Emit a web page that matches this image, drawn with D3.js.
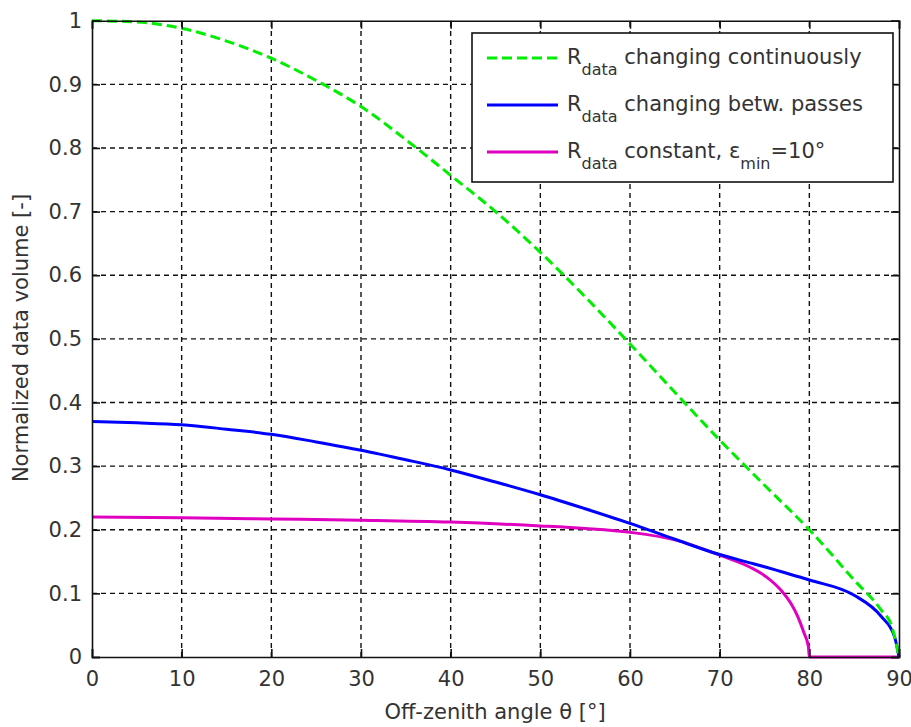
<!DOCTYPE html>
<html>
<head>
<meta charset="utf-8">
<script src="https://cdn.jsdelivr.net/npm/d3@7"></script>
<style>
body { margin: 0; padding: 0; background: #fff; overflow: hidden; }
text { font-family: "DejaVu Sans", sans-serif; fill: #333; }
</style>
</head>
<body>
<script>
// values
const xTicks = [0, 10, 20, 30, 40, 50, 60, 70, 80, 90];
const yTicks = [0, 0.1, 0.2, 0.3, 0.4, 0.5, 0.6, 0.7, 0.8, 0.9, 1];

const greenTheta = [0, 5, 10, 15, 20, 25, 30, 36, 40, 45, 50, 55, 60, 65, 70, 75, 80, 85, 88, 89.2, 90];
const greenVal   = [1.0, 0.998, 0.988, 0.968, 0.941, 0.906, 0.865, 0.802, 0.757, 0.700, 0.636, 0.566, 0.492, 0.416, 0.341, 0.270, 0.200, 0.121, 0.074, 0.048, 0.0];

const blueTheta = [0, 5, 10, 15, 20, 25, 30, 35, 40, 45, 50, 55, 60, 65, 70, 73.4, 75.2, 76.9, 80, 85, 88, 89.5, 90];
const blueVal   = [0.370, 0.368, 0.365, 0.358, 0.350, 0.338, 0.325, 0.310, 0.294, 0.275, 0.255, 0.233, 0.210, 0.185, 0.161, 0.148, 0.141, 0.134, 0.121, 0.097, 0.064, 0.032, 0.0];

const magTheta = [0, 10, 20, 30, 40, 50, 55, 60, 65, 67.7, 70, 73.4, 75.2, 76.9, 78.0, 78.7, 79.4, 79.9, 80, 90];
const magVal   = [0.220, 0.219, 0.217, 0.215, 0.212, 0.206, 0.202, 0.196, 0.184, 0.172, 0.160, 0.141, 0.126, 0.104, 0.083, 0.064, 0.038, 0.016, 0.0, 0.0];

const seriesNames = ["changing continuously", "changing betw. passes", "constant, "];
const seriesColors = ["#00ee00", "#0000ff", "#e000c0"];

const W = 911, H = 727;
const svg = d3.select("body").append("svg").attr("width", W).attr("height", H);

const x = d3.scaleLinear().domain([0, 90]).range([92, 899]);
const y = d3.scaleLinear().domain([0, 1]).range([657, 20.7]);

// grid
const grid = svg.append("g").attr("stroke", "#111").attr("stroke-width", 1.4).attr("stroke-dasharray", "5,4");
grid.selectAll(".gx").data(xTicks.slice(1, -1)).enter().append("line")
  .attr("x1", d => x(d)).attr("x2", d => x(d)).attr("y1", y(0)).attr("y2", y(1));
grid.selectAll(".gy").data(yTicks.slice(1, -1)).enter().append("line")
  .attr("y1", d => y(d)).attr("y2", d => y(d)).attr("x1", x(0)).attr("x2", x(90));

// curves
svg.append("clipPath").attr("id", "clip").append("rect")
  .attr("x", x(0)).attr("y", y(1) - 2).attr("width", x(90) - x(0) + 2).attr("height", y(0) - y(1) + 4);

const line = d3.line().x(d => x(d[0])).y(d => y(d[1])).curve(d3.curveMonotoneX);
const curves = svg.append("g").attr("clip-path", "url(#clip)").attr("fill", "none");

curves.append("path").datum(d3.zip(magTheta, magVal)).attr("d", line)
  .attr("stroke", seriesColors[2]).attr("stroke-width", 3);
curves.append("path").datum(d3.zip(blueTheta, blueVal)).attr("d", line)
  .attr("stroke", seriesColors[1]).attr("stroke-width", 3);
curves.append("path").datum(d3.zip(greenTheta, greenVal)).attr("d", line)
  .attr("stroke", seriesColors[0]).attr("stroke-width", 3).attr("stroke-dasharray", "10,5");

// axes (box with inward ticks on all sides)
const tick = 8;
const axB = svg.append("g").attr("transform", `translate(0,${y(0)})`)
  .call(d3.axisBottom(x).tickValues(xTicks).tickSize(-tick).tickPadding(14).tickFormat(d3.format("d")));
const axT = svg.append("g").attr("transform", `translate(0,${y(1)})`)
  .call(d3.axisTop(x).tickValues(xTicks).tickSize(-tick).tickFormat(""));
const axL = svg.append("g").attr("transform", `translate(${x(0)},0)`)
  .call(d3.axisLeft(y).tickValues(yTicks).tickSize(-tick).tickPadding(10).tickFormat(d => d3.format("")(+d.toFixed(1))));
const axR = svg.append("g").attr("transform", `translate(${x(90)},0)`)
  .call(d3.axisRight(y).tickValues(yTicks).tickSize(-tick).tickFormat(""));

[axB, axT, axL, axR].forEach(a => {
  a.select(".domain").attr("stroke", "#111").attr("stroke-width", 1.6);
  a.selectAll(".tick line").attr("stroke", "#111").attr("stroke-width", 1.6);
  a.selectAll("text").style("font-family", "DejaVu Sans").style("font-size", "21px").attr("fill", "#333");
});
axB.selectAll(".tick text").attr("dy", "0.71em");

// axis titles
svg.append("text").attr("x", 495).attr("y", 719).attr("text-anchor", "middle")
  .style("font-size", "21px").text("Off-zenith angle θ [°]");
svg.append("text").attr("transform", "translate(28,338) rotate(-90)").attr("text-anchor", "middle")
  .style("font-size", "21px").text("Normalized data volume [-]");

// legend
const lg = svg.append("g");
lg.append("rect").attr("x", 472).attr("y", 33).attr("width", 421).attr("height", 149)
  .attr("fill", "#fff").attr("stroke", "#111").attr("stroke-width", 1.6);

const rows = lg.selectAll(".row").data(seriesNames).enter().append("g")
  .attr("transform", (d, i) => `translate(0,${58 + i * 47})`);
rows.append("line").attr("x1", 487).attr("x2", 558).attr("y1", 0).attr("y2", 0)
  .attr("stroke", (d, i) => seriesColors[i]).attr("stroke-width", 3)
  .attr("stroke-dasharray", (d, i) => i === 0 ? "10,5" : null);

const t = rows.append("text").attr("x", 567).attr("y", 6).style("font-size", "21px");
t.append("tspan").text("R");
t.append("tspan").attr("dy", 11).style("font-size", "16px").text("data");
t.append("tspan").attr("dy", -11).text(d => " " + d);
t.filter((d, i) => i === 2).append("tspan").text("ε");
t.filter((d, i) => i === 2).append("tspan").attr("dy", 11).style("font-size", "16px").text("min");
t.filter((d, i) => i === 2).append("tspan").attr("dy", -11).text("=10°");
</script>
</body>
</html>
